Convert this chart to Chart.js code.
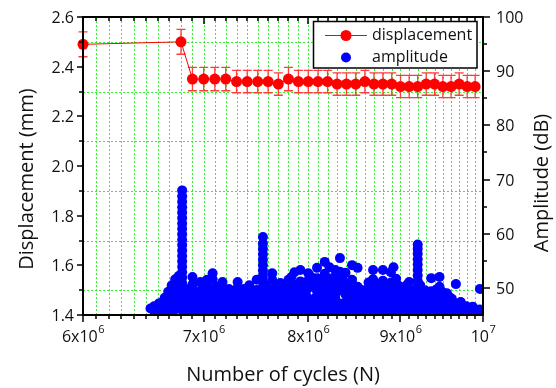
<!DOCTYPE html>
<html>
<head>
<meta charset="utf-8">
<script src="https://cdn.jsdelivr.net/npm/chart.js@4.4.0/dist/chart.umd.min.js"></script>
<style>
  html, body { margin: 0; padding: 0; background: #fff; }
</style>
</head>
<body>
<canvas id="chart" width="556" height="388" style="width:556px;height:388px;display:block"></canvas>
<script>
// ---- displacement (left axis, mm), cycles in units of 10^6 ----
const dispCycles = [6.0, 6.8, 6.9, 7.0, 7.1, 7.2, 7.3, 7.4, 7.5, 7.6, 7.7, 7.8, 7.9, 8.0, 8.1, 8.2, 8.3,
  8.4, 8.5, 8.6, 8.7, 8.8, 8.9, 9.0, 9.1, 9.2, 9.3, 9.4, 9.5, 9.6, 9.7, 9.8, 9.9];
const dispValues = [2.49, 2.50, 2.35, 2.35, 2.35, 2.35, 2.34, 2.34, 2.34, 2.34, 2.33, 2.35, 2.34, 2.34,
  2.34, 2.34, 2.33, 2.33, 2.33, 2.34, 2.33, 2.33, 2.33, 2.32, 2.32, 2.32, 2.33, 2.33, 2.32, 2.32, 2.33, 2.32, 2.32];
const dispErrors = [0.05, 0.05, 0.047, 0.047, 0.047, 0.047, 0.045, 0.045, 0.045, 0.045, 0.045, 0.047, 0.045,
  0.045, 0.045, 0.045, 0.045, 0.045, 0.045, 0.045, 0.045, 0.045, 0.045, 0.045, 0.045, 0.045, 0.045, 0.045,
  0.045, 0.045, 0.045, 0.045, 0.045];

// ---- acoustic hit amplitude (right axis, dB): cycle (10^6) and the hits stacked there ----
const ampCycles = [
  6.54, 6.57, 6.61, 6.64, 6.66, 6.69, 6.72, 6.75, 6.78, 6.81,
  6.84, 6.87, 6.90, 6.93, 6.97, 7.00, 7.03, 7.06, 7.08, 7.11, 7.14, 7.17, 7.20, 7.23, 7.26, 7.29,
  7.31, 7.34, 7.37, 7.40, 7.42, 7.45, 7.49, 7.52, 7.55,
  7.58, 7.61, 7.64, 7.67, 7.70, 7.72, 7.75, 7.78, 7.80, 7.83, 7.86, 7.89, 7.92, 7.95, 7.98,
  8.00, 8.03, 8.06, 8.09, 8.12, 8.15, 8.17, 8.20, 8.22, 8.25, 8.28, 8.31, 8.33, 8.36, 8.39, 8.42,
  8.46, 8.49, 8.52, 8.55, 8.58, 8.61, 8.64, 8.67, 8.69, 8.72, 8.75, 8.78, 8.80, 8.83, 8.86, 8.89,
  8.92, 8.95, 8.98, 9.01, 9.04, 9.07, 9.10, 9.13, 9.16, 9.20,
  9.23, 9.26, 9.29, 9.32, 9.36, 9.39, 9.42, 9.46, 9.49, 9.52, 9.55, 9.58, 9.61, 9.66, 9.69, 9.72,
  9.76, 9.79, 9.83, 9.87, 9.90, 9.93, 9.96
];
const ampStacks = [
  [46.2], [45.8, 46.6], [45.9, 47.1], [46.0, 47.4], [45.9, 47.0, 48.2], [46.1, 47.3, 48.5, 49.3],
  [45.9, 47.0, 48.2, 49.4, 50.5], [46.0, 47.2, 48.4, 49.6, 50.7, 51.6], [46.3, 47.5, 48.7, 49.9, 51.0, 52.2],
  [45.9, 46.9, 47.9, 48.9, 49.9, 50.9, 51.9, 52.9, 53.9, 54.9, 55.9, 56.9, 57.9, 58.9, 59.9, 60.9, 61.9,
   62.9, 63.9, 64.9, 65.9, 66.9, 68.0],
  [45.9, 47.0, 48.1, 49.0], [46.2, 47.3, 48.5, 49.8], [45.9, 47.1, 48.2, 50.6, 52.0], [46.0, 47.0, 48.0, 49.2],
  [45.8, 46.9, 48.3, 49.5, 51.1], [46.1, 47.2, 48.4, 49.6], [45.9, 47.0, 48.1, 50.3, 51.5],
  [46.0, 47.3, 48.6, 49.5], [45.9, 46.8, 48.0, 51.6, 52.7], [46.1, 47.1, 48.2, 49.4, 50.3], [45.9, 47.0, 48.3],
  [46.0, 47.2, 48.5, 49.7, 51.1], [45.8, 46.9, 48.0, 49.0], [46.1, 47.3, 48.6, 49.8], [45.9, 47.0, 48.2],
  [46.0, 47.1, 48.4, 49.5],
  [45.9, 47.2, 48.3, 50.0, 51.1], [46.1, 47.0, 48.1, 49.2], [45.9, 47.3, 48.6, 49.8], [46.0, 47.1, 48.3],
  [45.9, 47.0, 48.5, 49.5, 50.5], [46.1, 47.2, 48.2], [45.9, 46.9, 48.4, 49.6, 51.5], [46.0, 47.2, 48.3, 49.3],
  [45.9, 47.0, 48.1, 49.2, 50.2, 51.2, 52.2, 53.2, 54.2, 55.2, 56.2, 57.2, 58.2, 59.4],
  [46.0, 47.1, 48.3, 49.4, 50.4], [45.9, 47.0, 48.2, 49.3], [46.1, 47.2, 48.4, 49.6, 51.5, 52.7],
  [45.9, 47.0, 48.1, 49.1, 50.2], [46.0, 47.3, 48.5, 49.6], [45.9, 47.1, 48.0, 49.8, 50.9],
  [46.1, 47.0, 48.3, 49.4, 50.3], [45.9, 47.2, 48.5, 49.6], [46.0, 47.0, 48.2, 49.3, 50.5, 51.5],
  [45.9, 47.1, 48.4, 49.7, 50.7, 52.0], [46.1, 47.2, 48.3, 49.5, 50.6, 52.9], [45.9, 47.0, 48.1, 49.2, 50.4],
  [46.0, 47.3, 48.6, 49.8, 51.2, 53.3], [45.9, 47.1, 48.2, 49.4], [46.1, 47.0, 48.5, 49.6, 50.6],
  [45.9, 47.2, 50.0, 51.4, 52.7], [46.0, 47.0, 51.0, 52.0], [45.9, 47.1, 48.0, 50.3],
  [46.1, 47.3, 49.4, 50.6, 51.8, 53.7], [45.9, 47.0, 48.3, 49.5, 50.7], [46.0, 47.2, 48.4, 49.6, 51.5],
  [45.9, 47.1, 48.2, 49.3, 50.4, 52.6, 54.8], [46.1, 47.0, 48.5, 49.7, 51.0],
  [45.9, 47.3, 48.3, 50.2, 51.6, 53.8], [46.0, 47.1, 49.0, 51.8], [45.9, 47.0, 48.2, 50.5, 51.5, 53.3],
  [46.1, 47.2, 49.4, 50.6, 52.0], [45.9, 47.0, 49.8, 51.2, 53.0, 55.5], [46.0, 47.1, 50.0, 51.5],
  [45.9, 47.3, 48.8, 50.1, 52.8], [46.1, 47.0, 48.2, 49.4, 50.6],
  [45.9, 47.2, 48.4, 49.6, 51.5, 54.2], [46.0, 47.1, 48.3, 49.5], [45.9, 47.0, 48.1, 49.2, 50.2, 53.7],
  [46.1, 47.3, 48.5, 49.7], [45.9, 47.1, 48.2, 49.3], [46.0, 47.0, 48.4, 49.6], [45.9, 47.2, 48.3, 49.8, 51.0],
  [46.1, 47.0, 48.1, 49.2, 50.4], [45.9, 47.1, 48.5, 49.6, 51.6, 53.3], [46.0, 47.3, 48.2, 50.0],
  [45.9, 47.0, 48.4, 49.5, 50.7], [46.1, 47.2, 48.3, 49.4], [45.9, 47.1, 48.0, 49.7, 51.3, 53.3],
  [46.0, 47.0, 48.5, 49.6, 50.5], [45.9, 47.3, 48.2, 49.3, 50.5], [46.1, 47.1, 48.4, 49.8, 51.0, 52.9],
  [45.9, 47.0, 48.1, 49.2, 50.3, 53.8], [46.0, 47.2, 48.4, 49.5, 51.7], [45.9, 47.1, 48.3, 49.6, 50.4],
  [46.1, 47.0, 48.2, 49.8], [45.9, 47.2, 48.5, 49.7], [46.0, 47.1, 48.3, 49.4, 50.5],
  [45.9, 47.0, 48.2, 49.2, 51.1], [46.1, 47.3, 48.4, 49.5], [45.9, 47.0, 48.1, 49.3],
  [45.9, 47.0, 48.1, 49.2, 50.3, 51.3, 52.3, 53.3, 54.3, 55.3, 56.3, 57.2, 58.0],
  [46.0, 47.2, 48.4, 49.6, 50.5], [45.9, 47.1, 48.3, 49.3], [46.1, 47.0, 48.2, 49.5], [45.9, 47.2, 48.4, 49.0],
  [46.0, 47.1, 48.3, 49.4, 51.8], [45.9, 47.0, 48.1, 49.2], [46.1, 47.2, 48.5, 49.7],
  [45.9, 47.1, 48.3, 50.2, 52.0], [46.0, 47.0, 48.2, 49.3], [45.9, 47.2, 48.4], [46.1, 47.1, 48.1, 49.0],
  [45.9, 47.0, 48.3], [46.0, 47.2, 48.0], [45.9, 46.9, 50.7], [46.1, 47.1], [45.9, 47.4],
  [46.0], [45.9, 46.6], [46.0], [45.9, 46.5], [46.0], [45.9], [46.0, 49.8]
];

// ---- axes ----
const leftTicks = [1.4, 1.6, 1.8, 2.0, 2.2, 2.4, 2.6];
const leftMinor = [1.5, 1.7, 1.9, 2.1, 2.3, 2.5];
const rightTicks = [50, 60, 70, 80, 90, 100];
const rightMinor = [55, 65, 75, 85, 95];
const xMajorTicks = [6e6, 7e6, 8e6, 9e6, 1e7];
const xTickLabels = [['6x10', '6'], ['7x10', '6'], ['8x10', '6'], ['9x10', '6'], ['10', '7']];

const FONT = '"Open Sans", "DejaVu Sans", sans-serif';
const M = 1e6;

const dispPoints = dispCycles.map((c, i) => ({ x: c * M, y: dispValues[i], err: dispErrors[i] }));
const ampPoints = [];
ampCycles.forEach((c, i) => ampStacks[i].forEach(v => ampPoints.push({ x: c * M, y: v })));

// minor x positions every 1e5 cycles
const xMinor = [];
for (let k = 61; k < 100; k++) if (k % 10) xMinor.push(k * 1e5);

const decor = {
  id: 'decor',
  beforeDatasetsDraw(chart) {
    const { ctx, chartArea: a, scales: { x, y } } = chart;
    ctx.save();
    // green dotted grid
    ctx.strokeStyle = '#2ef02e';
    ctx.lineWidth = 1;
    ctx.setLineDash([2, 2]);
    for (let k = 61; k < 100; k++) {
      const px = Math.round(x.getPixelForValue(k * 1e5)) + 0.5;
      ctx.beginPath(); ctx.moveTo(px, a.top); ctx.lineTo(px, a.bottom); ctx.stroke();
    }
    leftMinor.forEach(v => {
      const py = Math.round(y.getPixelForValue(v)) + 0.5;
      ctx.beginPath(); ctx.moveTo(a.left, py); ctx.lineTo(a.right, py); ctx.stroke();
    });
    ctx.setLineDash([]);
    // error bars of displacement
    ctx.strokeStyle = '#ff3b3b';
    ctx.lineWidth = 1.3;
    dispPoints.forEach(p => {
      const px = x.getPixelForValue(p.x);
      const t = y.getPixelForValue(p.y + p.err), b = y.getPixelForValue(p.y - p.err);
      ctx.beginPath();
      ctx.moveTo(px, t); ctx.lineTo(px, b);
      ctx.moveTo(px - 4.5, t); ctx.lineTo(px + 4.5, t);
      ctx.moveTo(px - 4.5, b); ctx.lineTo(px + 4.5, b);
      ctx.stroke();
    });
    ctx.restore();
  },
  afterDatasetsDraw(chart) {
    const { ctx, chartArea: a, scales: { x, y, y2 } } = chart;
    ctx.save();
    ctx.strokeStyle = '#000';
    ctx.fillStyle = '#111';
    // frame
    ctx.lineWidth = 2;
    ctx.strokeRect(a.left, a.top, a.right - a.left, a.bottom - a.top);
    // ticks
    ctx.lineWidth = 1.5;
    const tick = (x1, y1, x2, y2_) => { ctx.beginPath(); ctx.moveTo(x1, y1); ctx.lineTo(x2, y2_); ctx.stroke(); };
    xMajorTicks.forEach(v => {
      const px = Math.round(x.getPixelForValue(v));
      tick(px, a.bottom, px, a.bottom + 7);
      tick(px, a.top, px, a.top + 7);
    });
    xMinor.forEach(v => {
      const px = Math.round(x.getPixelForValue(v));
      tick(px, a.bottom, px, a.bottom + 4);
      tick(px, a.top, px, a.top + 4);
    });
    leftTicks.forEach(v => { const py = Math.round(y.getPixelForValue(v)); tick(a.left, py, a.left - 6, py); });
    leftMinor.forEach(v => { const py = Math.round(y.getPixelForValue(v)); tick(a.left, py, a.left - 4, py); });
    rightTicks.forEach(v => { const py = Math.round(y2.getPixelForValue(v)); tick(a.right, py, a.right + 7, py); });
    rightMinor.forEach(v => { const py = Math.round(y2.getPixelForValue(v)); tick(a.right, py, a.right + 4, py); });

    // tick labels
    ctx.font = '16px ' + FONT;
    ctx.textBaseline = 'alphabetic';
    ctx.textAlign = 'right';
    leftTicks.forEach(v => ctx.fillText(v.toFixed(1), a.left - 9, y.getPixelForValue(v) + 6));
    ctx.textAlign = 'left';
    rightTicks.forEach(v => ctx.fillText(String(v), a.right + 13, y2.getPixelForValue(v) + 6));
    xMajorTicks.forEach((v, i) => {
      const [base, sup] = xTickLabels[i];
      const px = x.getPixelForValue(v);
      ctx.font = '16px ' + FONT; const w1 = ctx.measureText(base).width;
      ctx.font = '11px ' + FONT; const w2 = ctx.measureText(sup).width;
      const x0 = px - (w1 + w2) / 2;
      ctx.font = '16px ' + FONT; ctx.fillText(base, x0, a.bottom + 27);
      ctx.font = '11px ' + FONT; ctx.fillText(sup, x0 + w1 + 0.5, a.bottom + 18);
    });

    // axis titles
    ctx.font = '20px ' + FONT;
    ctx.textAlign = 'center';
    ctx.fillText('Number of cycles (N)', (a.left + a.right) / 2 + 0, 381);
    ctx.save();
    ctx.translate(33, 179); ctx.rotate(-Math.PI / 2);
    ctx.fillText('Displacement (mm)', 0, 0);
    ctx.restore();
    ctx.save();
    ctx.translate(548, 183); ctx.rotate(-Math.PI / 2);
    ctx.fillText('Amplitude (dB)', 0, 0);
    ctx.restore();

    // legend
    ctx.fillStyle = '#fff';
    ctx.fillRect(313, 21, 164, 47);
    ctx.lineWidth = 1.5;
    ctx.strokeStyle = '#000';
    ctx.strokeRect(313.5, 21.5, 163.5, 46.5);
    ctx.strokeStyle = '#ff0000'; ctx.lineWidth = 1;
    ctx.beginPath(); ctx.moveTo(325, 35.5); ctx.lineTo(367, 35.5); ctx.stroke();
    ctx.fillStyle = '#ff0000';
    ctx.beginPath(); ctx.arc(346, 35.5, 5.5, 0, Math.PI * 2); ctx.fill();
    ctx.fillStyle = '#0000ff';
    ctx.beginPath(); ctx.arc(346, 57.5, 5, 0, Math.PI * 2); ctx.fill();
    ctx.fillStyle = '#111';
    ctx.font = '16px ' + FONT;
    ctx.textAlign = 'left';
    ctx.fillText('displacement', 372, 40);
    ctx.fillText('amplitude', 372, 62);
    ctx.restore();
  }
};

new Chart(document.getElementById('chart'), {
  type: 'scatter',
  data: {
    datasets: [
      {
        label: 'displacement', data: dispPoints, yAxisID: 'y', showLine: true,
        borderColor: '#ff0000', borderWidth: 1, pointRadius: 5.5,
        pointBackgroundColor: '#ff0000', pointBorderColor: '#ff0000', pointBorderWidth: 0, clip: false
      },
      {
        label: 'amplitude', data: ampPoints, yAxisID: 'y2', showLine: false,
        pointRadius: 5, pointBackgroundColor: '#0000ff', pointBorderColor: '#0000ff', pointBorderWidth: 0
      }
    ]
  },
  options: {
    responsive: false,
    animation: false,
    layout: { padding: { top: 17, left: 0, right: 0, bottom: 0 } },
    plugins: { legend: { display: false }, tooltip: { enabled: false } },
    scales: {
      x: {
        type: 'logarithmic', position: 'bottom', min: 6e6, max: 1e7,
        grid: { display: false }, border: { display: false }, ticks: { display: false },
        afterFit(s) { s.height = 73; }
      },
      y: {
        position: 'left', min: 1.4, max: 2.6,
        grid: { display: false }, border: { display: false }, ticks: { display: false },
        afterFit(s) { s.width = 83; }
      },
      y2: {
        position: 'right', min: 45, max: 100,
        grid: { display: false }, border: { display: false }, ticks: { display: false },
        afterFit(s) { s.width = 73; }
      }
    }
  },
  plugins: [decor]
});
</script>
</body>
</html>
